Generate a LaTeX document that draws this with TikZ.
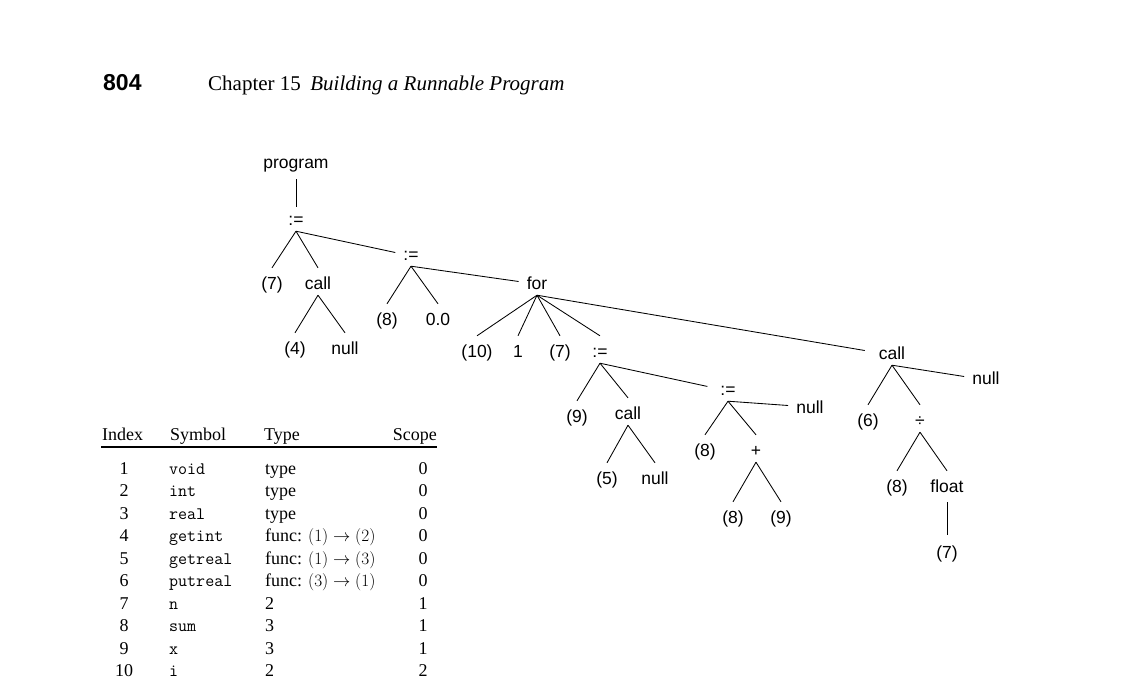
\documentclass[tikz,border=0pt]{standalone}
\usepackage{fontspec}
\setmainfont{Liberation Serif}
\newfontfamily\treefont{Liberation Sans}
\begin{document}
\begin{tikzpicture}[x=1pt,y=-1pt,
  lbl/.style={font=\treefont\fontsize{17.5}{20}\selectfont, inner sep=0pt, inner xsep=8pt,
              text height=21pt, text depth=6pt, anchor=base},
  edge/.style={line width=0.85pt},
  tcell/.style={font=\fontsize{18}{22}\selectfont, inner sep=0pt, anchor=base},
  mcell/.style={font=\ttfamily\fontsize{17.5}{22}\selectfont, inner sep=0pt, anchor=base west},
]
\useasboundingbox (0,0) rectangle (1128,694);

% header
\node[font=\treefont\bfseries\fontsize{23}{26}\selectfont, anchor=base west, inner sep=0pt] (pg) at (103,90) {804};
\node[font=\fontsize{21}{24}\selectfont, anchor=base west, inner sep=0pt] (ttl) at (208,90)
  {Chapter 15\hspace{0.45em}\textit{Building a Runnable Program}};

% tree nodes
\node[lbl, text depth=11pt] (prog) at (296,168) {program};
\node[lbl] (a1) at (296,225) {:=};
\node[lbl] (v7a) at (272,289) {(7)};
\node[lbl] (c1) at (318,289) {call};
\node[lbl] (v4) at (295,354) {(4)};
\node[lbl] (nl1) at (345,354) {null};
\node[lbl] (a2) at (411,260) {:=};
\node[lbl] (v8a) at (387,325) {(8)};
\node[lbl] (zero) at (438,325) {0.0};
\node[lbl] (for) at (537,289) {for};
\node[lbl] (v10) at (477,357) {(10)};
\node[lbl] (one) at (518,357) {1};
\node[lbl] (v7b) at (560,357) {(7)};
\node[lbl] (a3) at (600,357) {:=};
\node[lbl] (v9a) at (577,422) {(9)};
\node[lbl] (c2) at (628,419) {call};
\node[lbl] (v5) at (607,484) {(5)};
\node[lbl] (nl2) at (655,484) {null};
\node[lbl] (a4) at (728,395) {:=};
\node[lbl] (nl3) at (810,413) {null};
\node[lbl] (v8b) at (705,456) {(8)};
\node[lbl] (plus) at (756,456) {+};
\node[lbl] (v8c) at (733,523) {(8)};
\node[lbl] (v9b) at (781,523) {(9)};
\node[lbl] (c3) at (892,359) {call};
\node[lbl] (nl4) at (986,384) {null};
\node[lbl] (v6) at (868,426) {(6)};
\node[lbl] (dv) at (920,426) {÷};
\node[lbl] (v8d) at (897,492) {(8)};
\node[lbl] (fl) at (947,492) {float};
\node[lbl] (v7c) at (947,558) {(7)};

% tree edges
\draw[edge, shorten >=-3pt] (prog.south) -- (a1.north);
\draw[edge] (a1.south) -- (v7a.north);
\draw[edge] (a1.south) -- (c1.north);
\draw[edge] (a1.south) -- (a2.west);
\draw[edge] (c1.south) -- (v4.north);
\draw[edge] (c1.south) -- (nl1.north);
\draw[edge] (a2.south) -- (v8a.north);
\draw[edge] (a2.south) -- (zero.north);
\draw[edge] (a2.south) -- (for.west);
\draw[edge] (for.south) -- (v10.north);
\draw[edge] (for.south) -- (one.north);
\draw[edge] (for.south) -- (v7b.north);
\draw[edge] (for.south) -- (a3.north);
\draw[edge, shorten >=6pt] (for.south) -- (c3.west);
\draw[edge] (a3.south) -- (v9a.north);
\draw[edge] (a3.south) -- (c2.north);
\draw[edge, shorten >=5pt] (a3.south) -- (a4.west);
\draw[edge] (c2.south) -- (v5.north);
\draw[edge] (c2.south) -- (nl2.north);
\draw[edge] (a4.south) -- (v8b.north);
\draw[edge] (a4.south) -- (plus.north);
\draw[edge] (a4.south) -- (nl3.west);
\draw[edge] (plus.south) -- (v8c.north);
\draw[edge] (plus.south) -- (v9b.north);
\draw[edge] (c3.south) -- (v6.north);
\draw[edge] (c3.south) -- (dv.north);
\draw[edge] (c3.south) -- (nl4.west);
\draw[edge] (dv.south) -- (v8d.north);
\draw[edge] (dv.south) -- (fl.north);
\draw[edge, shorten <=4pt, shorten >=2pt] (fl.south) -- (v7c.north);

% symbol table
\node[tcell, anchor=base west] (hidx) at (102,440) {Index};
\node[tcell, anchor=base west] (hsym) at (170,440) {Symbol};
\node[tcell, anchor=base west] (htyp) at (264,440) {Type};
\node[tcell, anchor=base east] (hscp) at (437,440) {Scope};
\coordinate (rl) at (101,447);
\coordinate (rr) at (437,447);
\draw[line width=1.1pt] (rl) -- (rr);

\foreach \i/\s/\t/\c [count=\k] in {
  1/void/type/0,
  2/int/type/0,
  3/real/type/0,
  4/getint/{func: $(1)\rightarrow(2)$}/0,
  5/getreal/{func: $(1)\rightarrow(3)$}/0,
  6/putreal/{func: $(3)\rightarrow(1)$}/0,
  7/n/2/1,
  8/sum/3/1,
  9/x/3/1,
  10/i/2/2}{
  \pgfmathsetmacro{\yy}{474+22.5*(\k-1)}
  \node[tcell] (idx\k) at (124,\yy) {\i};
  \node[mcell] (sym\k) at (169,\yy) {\s};
  \node[tcell, anchor=base west] (typ\k) at (265,\yy) {\t};
  \node[tcell] (scp\k) at (423,\yy) {\c};
}
\end{tikzpicture}
\end{document}
